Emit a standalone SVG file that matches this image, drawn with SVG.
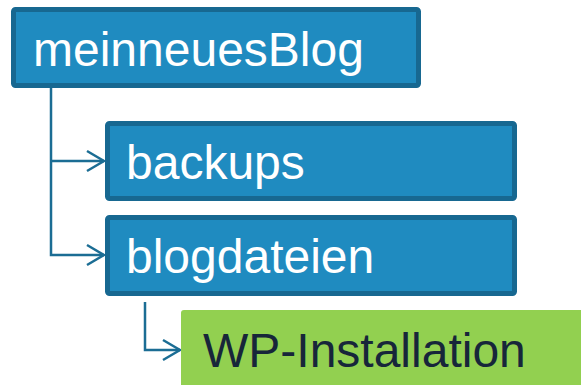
<svg xmlns="http://www.w3.org/2000/svg" width="581" height="385" viewBox="0 0 581 385">
  <defs>
    <style>
      .folder { fill: #1f8bc0; stroke: #176891; stroke-width: 5; }
      .leaf { fill: #92d050; }
      .lbl { font-family: "Liberation Sans", Arial, sans-serif; font-size: 48px; }
      .white { fill: #ffffff; }
      .dark { fill: #17263a; }
      .wire { fill: none; stroke: #1b6d94; stroke-width: 2.5; }
    </style>
    <marker id="chev" viewBox="0 0 20 24" refX="18" refY="12" markerWidth="20" markerHeight="24" markerUnits="userSpaceOnUse" orient="auto">
      <path d="M1,2 L18,12 L1,22" fill="none" stroke="#1b6d94" stroke-width="2.5"/>
    </marker>
  </defs>

  <!-- tree connectors -->
  <g id="connectors">
    <path class="wire" d="M51,88 V255 H104" marker-end="url(#chev)"/>
    <path class="wire" d="M51,161 H104" marker-end="url(#chev)"/>
    <path class="wire" d="M145,302 V350 H180" marker-end="url(#chev)"/>
  </g>

  <g id="node-meinneuesBlog">
    <rect class="folder" x="13.5" y="9.5" width="405" height="76" rx="2"/>
    <text class="lbl white" x="33" y="66">meinneuesBlog</text>
  </g>

  <g id="node-backups">
    <rect class="folder" x="107.5" y="123.5" width="407" height="75" rx="2"/>
    <text class="lbl white" x="126" y="179">backups</text>
  </g>

  <g id="node-blogdateien">
    <rect class="folder" x="107.5" y="217.5" width="407" height="76" rx="2"/>
    <text class="lbl white" x="126" y="273">blogdateien</text>
  </g>

  <g id="node-wp-installation">
    <rect class="leaf" x="181" y="310" width="410" height="90" rx="3"/>
    <text class="lbl dark" x="203" y="367">WP-Installation</text>
  </g>
</svg>
